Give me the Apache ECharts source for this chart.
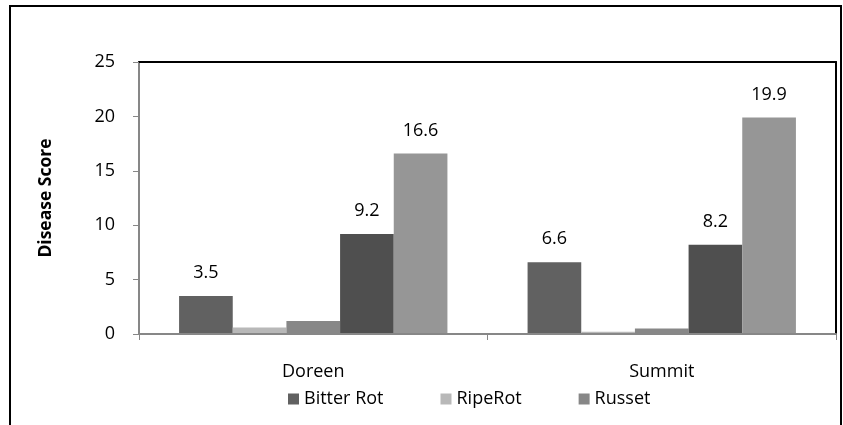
<!DOCTYPE html>
<html>
<head>
<meta charset="utf-8">
<script src="https://cdn.jsdelivr.net/npm/echarts@6/dist/echarts.min.js"></script>
<style>
  html, body { margin: 0; padding: 0; background: #fff; }
  #chart { width: 843px; height: 425px; }
</style>
</head>
<body>
<div id="chart"></div>
<script>
// Cultivars on the category axis
const categories = ['Doreen', 'Summit'];

// Disease scores per cultivar, one array per bar series
const bitterRot = [3.5, 6.6];
const ripeRot = [0.6, 0.2];
const russet = [1.2, 0.5];
const series4 = [9.2, 8.2];
const series5 = [16.6, 19.9];

// Legend entries and value-axis ticks
const legendNames = ['Bitter Rot', 'RipeRot', 'Russet'];
const yTicks = [0, 5, 10, 15, 20, 25];

const FONT = "'Open Sans', 'Liberation Sans', sans-serif";

const chart = echarts.init(document.getElementById('chart'), null, { renderer: 'canvas' });

function barSeries(name, data, color, showLabel) {
  return {
    name: name,
    type: 'bar',
    data: data,
    barGap: '0%',
    barCategoryGap: '23%',
    itemStyle: { color: color },
    label: {
      show: showLabel,
      position: 'top',
      distance: 14,
      color: '#000',
      fontFamily: FONT,
      fontSize: 18
    },
    emphasis: { disabled: true }
  };
}

chart.setOption({
  animation: false,
  backgroundColor: '#fff',
  textStyle: { fontFamily: FONT },
  grid: { left: 139, top: 62, right: 7, bottom: 91, containLabel: false },
  graphic: [{
    type: 'rect',
    shape: { x: 10, y: 6, width: 831, height: 440 },
    style: { fill: 'none', stroke: '#000', lineWidth: 2 },
    silent: true,
    z: 100
  }],
  legend: {
    data: legendNames,
    left: 283,
    top: 385,
    itemWidth: 11,
    itemHeight: 11,
    itemGap: 57,
    icon: 'rect',
    textStyle: { color: '#000', fontFamily: FONT, fontSize: 18 },
    selectedMode: false
  },
  xAxis: [{
    type: 'category',
    data: categories,
    position: 'bottom',
    axisLine: { lineStyle: { color: '#878787', width: 2 } },
    axisTick: { show: true, length: 6, lineStyle: { color: '#878787', width: 1 } },
    axisLabel: { color: '#000', fontFamily: FONT, fontSize: 18, margin: 29 },
    z: 5
  }, {
    type: 'category',
    data: categories,
    position: 'top',
    axisLine: { show: true, onZero: false, lineStyle: { color: '#000', width: 2 } },
    axisTick: { show: false },
    axisLabel: { show: false }
  }],
  yAxis: [{
    type: 'value',
    min: 0,
    max: 25,
    interval: 5,
    name: 'Disease Score',
    nameLocation: 'middle',
    nameGap: 84,
    nameRotate: 90,
    nameTextStyle: { color: '#000', fontFamily: FONT, fontSize: 17.5, fontWeight: 'bold' },
    axisLine: { show: true, lineStyle: { color: '#878787', width: 2 } },
    axisTick: { show: true, length: 6, lineStyle: { color: '#878787', width: 1 } },
    axisLabel: {
      color: '#000', fontFamily: FONT, fontSize: 18, margin: 24,
      formatter: v => (yTicks.indexOf(v) >= 0 ? String(v) : '')
    },
    splitLine: { show: false }
  }, {
    type: 'value',
    min: 0,
    max: 25,
    interval: 5,
    position: 'right',
    axisLine: { show: true, onZero: false, lineStyle: { color: '#000', width: 2 } },
    axisTick: { show: false },
    axisLabel: { show: false },
    splitLine: { show: false }
  }],
  series: [
    barSeries('Bitter Rot', bitterRot, '#616161', true),
    barSeries('RipeRot', ripeRot, '#b8b8b8', false),
    barSeries('Russet', russet, '#878787', false),
    barSeries('Series4', series4, '#4f4f4f', true),
    barSeries('Series5', series5, '#969696', true)
  ]
});
</script>
</body>
</html>
